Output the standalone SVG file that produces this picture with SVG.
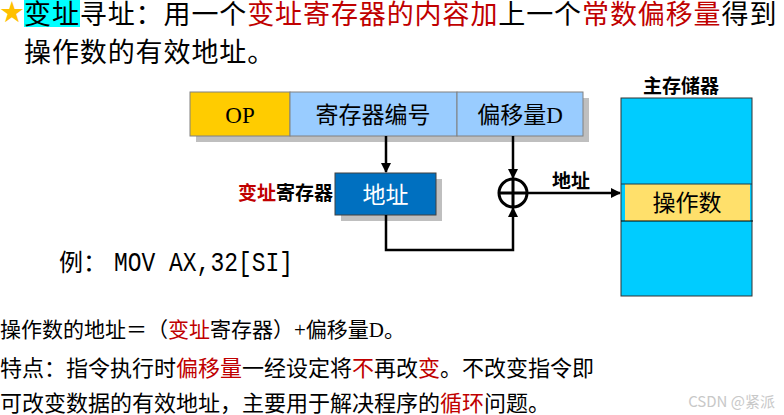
<svg xmlns="http://www.w3.org/2000/svg" width="784" height="415" viewBox="0 0 784 415">
<defs>
<style>
.cjk{font-family:"Noto Sans CJK SC","Noto Sans",sans-serif;}
.ser{font-family:"Liberation Serif","Noto Sans CJK SC",serif;}
.mono{font-family:"Liberation Mono","Noto Sans CJK SC",monospace;}
.red{fill:#C00000;}
.conn{fill:none;stroke:#000;stroke-width:2.5;}
.shadow{fill:#BFBFBF;}
</style>
<marker id="ah" viewBox="0 0 10 10" refX="9" refY="5" markerWidth="4" markerHeight="4" orient="auto" markerUnits="strokeWidth">
<path d="M0,0 L10,5 L0,10 z" fill="#000"/>
</marker>
</defs>
<rect width="784" height="415" fill="#fff"/>

<g id="title">
<text x="-1" y="22" font-family="DejaVu Sans,sans-serif" font-size="29" fill="#FFC000">★</text>
<rect x="24" y="0" width="56" height="27" fill="#00FFFF"/>
<text x="24" y="24" class="cjk" font-size="27" letter-spacing="0.9" fill="#000">变址寻址：用一个<tspan class="red">变址寄存器的内容加</tspan>上一个<tspan class="red">常数偏移量</tspan>得到</text>
<text x="24" y="62" class="cjk" font-size="27" letter-spacing="0.9" fill="#000">操作数的有效地址。</text>
</g>

<g id="instruction">
<rect x="196" y="98" width="393" height="44" class="shadow"/>
<rect x="190" y="92" width="100" height="44" fill="#FFCC00" stroke="#808080" stroke-width="1"/>
<rect x="290" y="92" width="167" height="44" fill="#99CCFF" stroke="#808080" stroke-width="1"/>
<rect x="457" y="92" width="126" height="44" fill="#99CCFF" stroke="#808080" stroke-width="1"/>
<text x="240" y="123" class="ser" font-size="23" text-anchor="middle">OP</text>
<text x="373" y="123" class="cjk" font-size="23" text-anchor="middle">寄存器编号</text>
<text x="520" y="123" class="cjk" font-size="23" text-anchor="middle">偏移量<tspan class="ser">D</tspan></text>
</g>

<g id="index-register">
<rect x="341" y="179" width="101" height="42" class="shadow"/>
<rect x="335" y="173" width="101" height="42" fill="#0070C0" stroke="#404040" stroke-width="1"/>
<text x="385.500" y="203" class="cjk" font-size="23" fill="#fff" text-anchor="middle">地址</text>
<text x="333" y="200" class="cjk" font-size="19" font-weight="bold" text-anchor="end"><tspan class="red">变址</tspan>寄存器</text>
</g>

<g id="adder">
<circle cx="513" cy="193" r="14" fill="#fff" stroke="#000" stroke-width="3"/>
<line x1="499" y1="193" x2="527" y2="193" stroke="#000" stroke-width="3"/>
<line x1="513" y1="179" x2="513" y2="207" stroke="#000" stroke-width="3"/>
</g>

<g id="memory">
<text x="681" y="93" class="cjk" font-size="19" font-weight="bold" text-anchor="middle">主存储器</text>
<rect x="621" y="98" width="131" height="198" fill="#00CCFF" stroke="#333" stroke-width="1"/>
<rect x="625" y="184" width="125" height="37" fill="#FFE06B"/>
<line x1="621" y1="184" x2="752" y2="184" stroke="#1a3a4a" stroke-width="1"/>
<line x1="621" y1="221" x2="753" y2="221" stroke="#000" stroke-width="1"/>
<text x="687" y="211" class="cjk" font-size="23" text-anchor="middle">操作数</text>
</g>

<g id="connectors">
<line x1="386" y1="136" x2="386" y2="172" class="conn" marker-end="url(#ah)"/>
<line x1="513" y1="136" x2="513" y2="178" class="conn" marker-end="url(#ah)"/>
<polyline points="386,215 386,250 513,250 513,208" class="conn" marker-end="url(#ah)"/>
<line x1="527" y1="193" x2="620" y2="193" class="conn" marker-end="url(#ah)"/>
<text x="571" y="188" class="cjk" font-size="19" font-weight="bold" text-anchor="middle">地址</text>
</g>

<g id="notes">
<text x="59" y="271" font-size="24" class="cjk">例：</text>
<text x="114" y="271" font-size="28" class="mono" textLength="179" lengthAdjust="spacingAndGlyphs">MOV AX,32[SI]</text>
<text x="0" y="337" class="cjk" font-size="21">操作数的地址＝（<tspan class="red">变址</tspan>寄存器）<tspan class="ser">+</tspan>偏移量<tspan class="ser">D</tspan>。</text>
<text x="0" y="376" class="cjk" font-size="22">特点：指令执行时<tspan class="red">偏移量</tspan>一经设定将<tspan class="red">不</tspan>再改<tspan class="red">变</tspan>。不改变指令即</text>
<text x="0" y="411" class="cjk" font-size="22">可改变数据的有效地址，主要用于解决程序的<tspan class="red">循环</tspan>问题。</text>
<text x="775" y="407" class="cjk" font-size="15" fill="#C8C8C8" text-anchor="end">CSDN @紧派</text>
</g>
</svg>
